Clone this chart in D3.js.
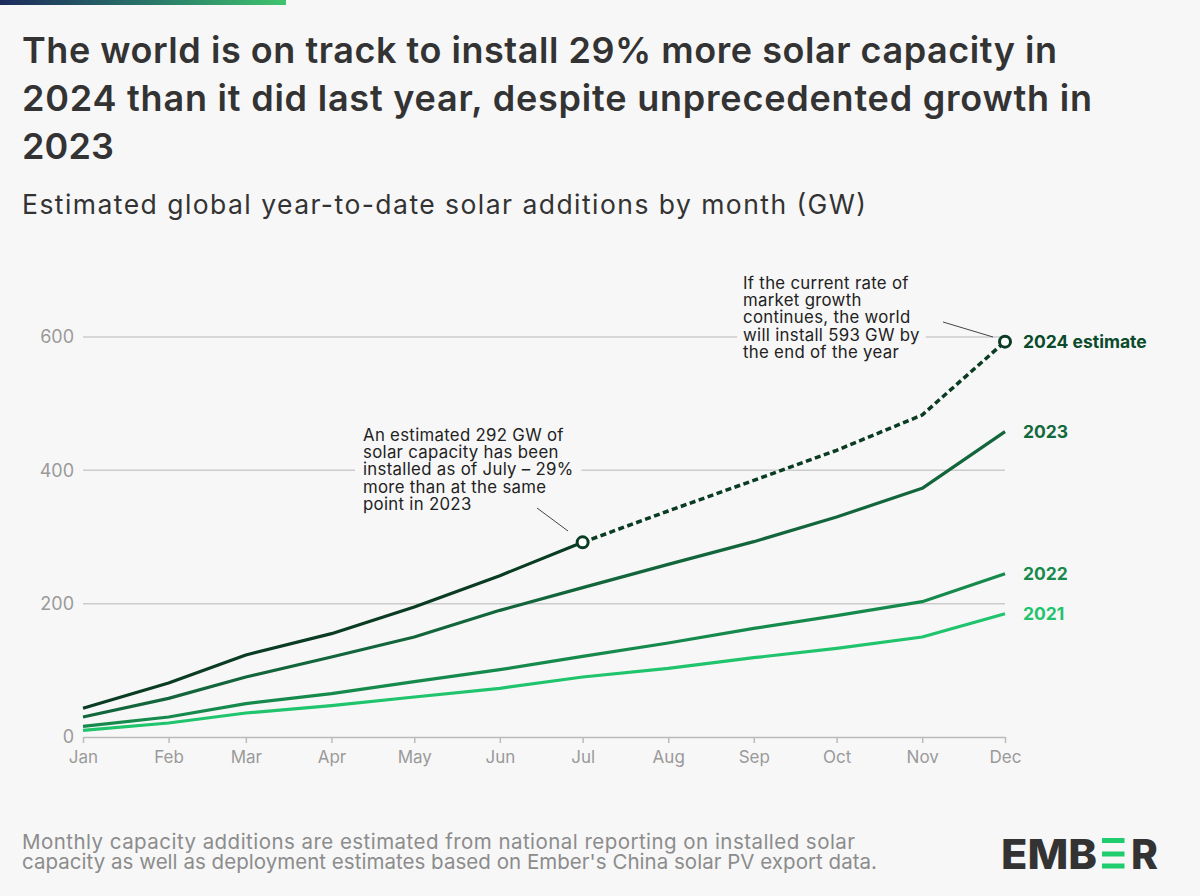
<!DOCTYPE html>
<html lang="en">
<head>
<meta charset="utf-8">
<style>
html, body {
    margin: 0;
    padding: 0;
    background: #f7f7f7;
}
svg {
    display: block;
    font-family: Inter, "Open Sans", sans-serif;
}
.axis text {
    font-family: Inter, sans-serif;
    fill: #9a9a9a;
    font-size: 17px;
}
</style>
</head>
<body>
<svg id="chart" width="1200" height="896"></svg>

<script src="https://cdn.jsdelivr.net/npm/d3@7/dist/d3.min.js"></script>
<script>

// cumulative GW installed, year to date
var months = ["Jan", "Feb", "Mar", "Apr", "May", "Jun", "Jul", "Aug", "Sep", "Oct", "Nov", "Dec"];
var y2021 = [10, 21, 36, 47, 60, 73, 90, 103, 119, 133, 150, 185];
var y2022 = [16, 30, 50, 65, 83, 101, 121, 141, 163, 182, 203, 245];
var y2023 = [30, 58, 90, 120, 150, 190, 224, 259, 293, 330, 373, 458];
var y2024 = [43, 81, 123, 155, 195, 242, 292, 339, 385, 430, 483, 593];
var estimateFrom = 6; // July onwards is the estimate
var yTicks = [0, 200, 400, 600];

var seriesColors = ["#1fc46c", "#168a4c", "#13663b", "#0a3b23"];

var svg = d3.select("#chart");
var bg = "#f7f7f7";

svg.append("rect").attr("width", 1200).attr("height", 896).attr("fill", bg);

// top gradient strip
var grad = svg.append("defs").append("linearGradient").attr("id", "topbar");
grad.append("stop").attr("offset", "0%").attr("stop-color", "#1d2a5c");
grad.append("stop").attr("offset", "55%").attr("stop-color", "#2a7a6a");
grad.append("stop").attr("offset", "100%").attr("stop-color", "#3fc46e");
svg.append("rect").attr("x", 0).attr("y", 0).attr("width", 286).attr("height", 5).attr("fill", "url(#topbar)");

// title + subtitle (widths fitted to the original's wider typeface)
var title = ["The world is on track to install 29% more solar capacity in",
             "2024 than it did last year, despite unprecedented growth in",
             "2023"];
var titleWidths = [1035, 1070, 92];
svg.append("g").selectAll("text")
    .data(title)
    .enter()
    .append("text")
    .attr("x", 22)
    .attr("y", function(d, i){ return 63 + i * 48; })
    .attr("textLength", function(d, i){ return titleWidths[i]; })
    .attr("lengthAdjust", "spacing")
    .attr("fill", "#333")
    .style("font-size", "36px")
    .style("font-weight", 600)
    .text(function(d){ return d; });

svg.append("text")
    .attr("x", 22)
    .attr("y", 214)
    .attr("textLength", 844)
    .attr("lengthAdjust", "spacing")
    .attr("fill", "#333")
    .style("font-size", "26.5px")
    .text("Estimated global year-to-date solar additions by month (GW)");

// scales
var dates = months.map(function(m, i){ return new Date(2023, i, 1); });

var x = d3.scaleTime()
    .domain([dates[0], dates[11]])
    .range([83, 1005]);

var y = d3.scaleLinear()
    .domain([0, 600])
    .range([737, 337]);

// gridlines
svg.append("g")
    .selectAll("line")
    .data(yTicks.slice(1))
    .enter()
    .append("line")
    .attr("x1", 83)
    .attr("x2", 1005)
    .attr("y1", function(d){ return y(d); })
    .attr("y2", function(d){ return y(d); })
    .attr("stroke", "#cccccc")
    .attr("stroke-width", 1.5);

// y labels
var yAxis = svg.append("g")
    .attr("class", "axis")
    .attr("transform", "translate(74,0)")
    .call(d3.axisLeft(y).tickValues(yTicks).tickSize(0).tickPadding(0));
yAxis.select(".domain").remove();
yAxis.selectAll("text").style("font-size", "18px");

// x axis
var xAxis = svg.append("g")
    .attr("class", "axis")
    .attr("transform", "translate(0," + y(0) + ")")
    .call(d3.axisBottom(x).tickValues(dates).tickFormat(d3.timeFormat("%b")).tickSize(6).tickSizeOuter(0).tickPadding(8));
xAxis.select(".domain").attr("stroke", "#bbbbbb").attr("stroke-width", 1.5);
xAxis.selectAll(".tick line").attr("stroke", "#bbbbbb").attr("stroke-width", 1.5);

// annotations (drawn before lines, with a bg box to break the gridlines)
function annotate(lines, tx, ty, pad) {
    var g = svg.append("g");
    var box = g.append("rect").attr("fill", bg);
    var t = g.append("text")
        .attr("fill", "#222")
        .style("font-size", "16.8px")
        .style("letter-spacing", "0.3px");
    t.selectAll("tspan")
        .data(lines)
        .enter()
        .append("tspan")
        .attr("x", tx)
        .attr("y", function(d, i){ return ty + i * 17.2; })
        .text(function(d){ return d; });
    var b = t.node().getBBox();
    box.attr("x", b.x - pad).attr("y", b.y).attr("width", b.width + pad * 2).attr("height", b.height);
    return g;
}

annotate(["An estimated 292 GW of", "solar capacity has been", "installed as of July \u2013 29%",
          "more than at the same", "point in 2023"], 363, 441, 8);
svg.append("line")
    .attr("x1", 537).attr("y1", 508)
    .attr("x2", 568).attr("y2", 531)
    .attr("stroke", "#444").attr("stroke-width", 1);

annotate(["If the current rate of", "market growth", "continues, the world",
          "will install 593 GW by", "the end of the year"], 743, 289, 6);
svg.append("line")
    .attr("x1", 943).attr("y1", 322)
    .attr("x2", 993).attr("y2", 337)
    .attr("stroke", "#444").attr("stroke-width", 1);

// lines
var line = d3.line()
    .x(function(d){ return x(d.date); })
    .y(function(d){ return y(d.value); });

function pts(values) {
    return values.map(function(v, i){ return {date: dates[i], value: v}; });
}

[y2021, y2022, y2023].forEach(function(vals, k){
    svg.append("path")
        .datum(pts(vals))
        .attr("d", line)
        .attr("fill", "none")
        .attr("stroke", seriesColors[k])
        .attr("stroke-width", 3.2)
        .attr("stroke-linejoin", "round");
});

var p2024 = pts(y2024);
svg.append("path")
    .datum(p2024.slice(0, estimateFrom + 1))
    .attr("d", line)
    .attr("fill", "none")
    .attr("stroke", seriesColors[3])
    .attr("stroke-width", 3.2)
    .attr("stroke-linejoin", "round");

svg.append("path")
    .datum(p2024.slice(estimateFrom))
    .attr("d", line)
    .attr("fill", "none")
    .attr("stroke", seriesColors[3])
    .attr("stroke-width", 3.5)
    .attr("stroke-dasharray", "6,3.5");

svg.selectAll(".dot")
    .data([p2024[estimateFrom], p2024[11]])
    .enter()
    .append("circle")
    .attr("class", "dot")
    .attr("cx", function(d){ return x(d.date); })
    .attr("cy", function(d){ return y(d.value); })
    .attr("r", 5.5)
    .attr("fill", "#ffffff")
    .attr("stroke", seriesColors[3])
    .attr("stroke-width", 3);

// end labels
var endLabels = [
    {text: "2021", value: y2021[11], color: "#1fc46c"},
    {text: "2022", value: y2022[11], color: "#178a4c"},
    {text: "2023", value: y2023[11], color: "#12693b"},
    {text: "2024 estimate", value: y2024[11], color: "#0b4a2a"}
];
svg.append("g").selectAll("text")
    .data(endLabels)
    .enter()
    .append("text")
    .attr("x", 1023)
    .attr("y", function(d){ return y(d.value); })
    .attr("dy", "0.35em")
    .attr("fill", function(d){ return d.color; })
    .style("font-size", "17.5px")
    .style("font-weight", 700)
    .text(function(d){ return d.text; });

// footnote
var foot = ["Monthly capacity additions are estimated from national reporting on installed solar",
            "capacity as well as deployment estimates based on Ember's China solar PV export data."];
var footWidths = [833, 855];
svg.append("g").selectAll("text")
    .data(foot)
    .enter()
    .append("text")
    .attr("x", 22)
    .attr("y", function(d, i){ return 849 + i * 19.5; })
    .attr("textLength", function(d, i){ return footWidths[i]; })
    .attr("lengthAdjust", "spacing")
    .attr("fill", "#8c8c8c")
    .style("font-size", "20.5px")
    .text(function(d){ return d; });

// logo
var logo = svg.append("g").attr("fill", "#333");
logo.append("text")
    .attr("x", 1001).attr("y", 868.5)
    .attr("textLength", 96).attr("lengthAdjust", "spacingAndGlyphs")
    .style("font-size", "41px").style("font-weight", 800)
    .text("EMB");
logo.append("text")
    .attr("x", 1131).attr("y", 868.5)
    .attr("textLength", 27).attr("lengthAdjust", "spacingAndGlyphs")
    .style("font-size", "41px").style("font-weight", 800)
    .text("R");
logo.selectAll("rect")
    .data([838, 851.5, 863.5])
    .enter()
    .append("rect")
    .attr("x", 1102).attr("y", function(d){ return d; })
    .attr("width", 22.5).attr("height", 5)
    .attr("fill", "#1fcc6e");

</script>
</body>
</html>
